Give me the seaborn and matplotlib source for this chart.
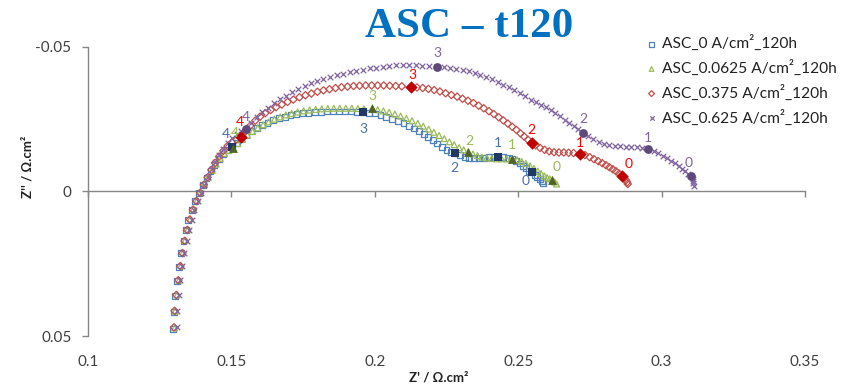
import matplotlib
matplotlib.use("Agg")
import matplotlib.pyplot as plt
import seaborn as sns

# ---------------- data ----------------
SERIES_NAMES = ["ASC_0 A/cm²_120h", "ASC_0.0625 A/cm²_120h",
                "ASC_0.375 A/cm²_120h", "ASC_0.625 A/cm²_120h"]
KEY_LABELS = ["4", "3", "2", "1", "0"]

S0_X = [0.1297, 0.1299, 0.1304, 0.1311, 0.1318, 0.1325, 0.1333, 0.1342, 0.1350, 0.1362,
        0.1374, 0.1387, 0.1400, 0.1413, 0.1427, 0.1441, 0.1456, 0.1471, 0.1486, 0.1502,
        0.1518, 0.1535, 0.1552, 0.1570, 0.1588, 0.1607, 0.1626, 0.1646, 0.1666, 0.1686,
        0.1706, 0.1727, 0.1748, 0.1769, 0.1790, 0.1811, 0.1832, 0.1853, 0.1874, 0.1895,
        0.1916, 0.1937, 0.1960, 0.1980, 0.2000, 0.2020, 0.2040, 0.2060, 0.2080, 0.2100,
        0.2118, 0.2136, 0.2153, 0.2170, 0.2186, 0.2202, 0.2218, 0.2234, 0.2250, 0.2266,
        0.2281, 0.2297, 0.2313, 0.2330, 0.2347, 0.2364, 0.2381, 0.2398, 0.2414, 0.2431,
        0.2447, 0.2463, 0.2478, 0.2492, 0.2505, 0.2517, 0.2528, 0.2539, 0.2549, 0.2558,
        0.2567, 0.2575, 0.2582, 0.2588]
S0_Y = [0.0476, 0.0418, 0.0362, 0.0311, 0.0260, 0.0214, 0.0172, 0.0134, 0.0098, 0.0064,
        0.0034, 0.0006, -0.0022, -0.0046, -0.0070, -0.0092, -0.0113, -0.0131, -0.0143, -0.0154,
        -0.0169, -0.0183, -0.0196, -0.0208, -0.0219, -0.0229, -0.0238, -0.0246, -0.0253, -0.0259,
        -0.0264, -0.0268, -0.0271, -0.0273, -0.0275, -0.0276, -0.0277, -0.0277, -0.0277, -0.0277,
        -0.0277, -0.0276, -0.0276, -0.0273, -0.0270, -0.0265, -0.0259, -0.0252, -0.0244, -0.0236,
        -0.0227, -0.0218, -0.0208, -0.0198, -0.0188, -0.0177, -0.0166, -0.0155, -0.0145, -0.0138,
        -0.0134, -0.0126, -0.0120, -0.0117, -0.0115, -0.0115, -0.0116, -0.0118, -0.0120, -0.0121,
        -0.0120, -0.0117, -0.0112, -0.0105, -0.0097, -0.0089, -0.0080, -0.0072, -0.0066, -0.0058,
        -0.0050, -0.0042, -0.0035, -0.0030]
S0_KEY_X = [0.1502, 0.1960, 0.2281, 0.2431, 0.2549]
S0_KEY_Y = [-0.0154, -0.0276, -0.0134, -0.0121, -0.0066]

S1_X = [0.1302, 0.1304, 0.1310, 0.1317, 0.1324, 0.1331, 0.1339, 0.1348, 0.1357, 0.1368,
        0.1380, 0.1393, 0.1406, 0.1419, 0.1433, 0.1447, 0.1461, 0.1476, 0.1491, 0.1506,
        0.1522, 0.1539, 0.1556, 0.1574, 0.1592, 0.1611, 0.1630, 0.1650, 0.1670, 0.1690,
        0.1710, 0.1731, 0.1752, 0.1773, 0.1794, 0.1815, 0.1836, 0.1857, 0.1878, 0.1899,
        0.1920, 0.1941, 0.1962, 0.1991, 0.2010, 0.2030, 0.2050, 0.2070, 0.2090, 0.2110,
        0.2130, 0.2150, 0.2169, 0.2188, 0.2206, 0.2224, 0.2242, 0.2260, 0.2277, 0.2294,
        0.2310, 0.2326, 0.2342, 0.2358, 0.2374, 0.2391, 0.2408, 0.2425, 0.2442, 0.2460,
        0.2479, 0.2496, 0.2512, 0.2527, 0.2541, 0.2555, 0.2568, 0.2580, 0.2591, 0.2601,
        0.2610, 0.2619, 0.2627, 0.2634]
S1_Y = [0.0472, 0.0414, 0.0358, 0.0307, 0.0257, 0.0211, 0.0169, 0.0131, 0.0095, 0.0061,
        0.0031, 0.0003, -0.0025, -0.0049, -0.0073, -0.0095, -0.0115, -0.0132, -0.0142, -0.0150,
        -0.0166, -0.0181, -0.0195, -0.0208, -0.0220, -0.0231, -0.0241, -0.0250, -0.0258, -0.0265,
        -0.0270, -0.0275, -0.0279, -0.0282, -0.0284, -0.0286, -0.0287, -0.0288, -0.0288, -0.0288,
        -0.0288, -0.0287, -0.0286, -0.0288, -0.0283, -0.0279, -0.0274, -0.0268, -0.0261, -0.0253,
        -0.0245, -0.0236, -0.0226, -0.0216, -0.0205, -0.0194, -0.0183, -0.0172, -0.0162, -0.0152,
        -0.0144, -0.0138, -0.0130, -0.0124, -0.0119, -0.0116, -0.0114, -0.0113, -0.0113, -0.0113,
        -0.0114, -0.0110, -0.0104, -0.0097, -0.0089, -0.0080, -0.0071, -0.0062, -0.0054, -0.0048,
        -0.0044, -0.0041, -0.0033, -0.0026]
S1_KEY_X = [0.1506, 0.1991, 0.2326, 0.2479, 0.2619]
S1_KEY_Y = [-0.0150, -0.0288, -0.0138, -0.0114, -0.0041]

S2_X = [0.1300, 0.1302, 0.1308, 0.1315, 0.1322, 0.1329, 0.1337, 0.1346, 0.1355, 0.1366,
        0.1378, 0.1391, 0.1404, 0.1417, 0.1430, 0.1443, 0.1457, 0.1472, 0.1487, 0.1502,
        0.1518, 0.1534, 0.1550, 0.1566, 0.1583, 0.1600, 0.1618, 0.1637, 0.1656, 0.1676,
        0.1696, 0.1716, 0.1737, 0.1758, 0.1779, 0.1800, 0.1821, 0.1842, 0.1863, 0.1884,
        0.1905, 0.1926, 0.1947, 0.1968, 0.1989, 0.2010, 0.2031, 0.2052, 0.2073, 0.2094,
        0.2127, 0.2147, 0.2167, 0.2187, 0.2207, 0.2227, 0.2247, 0.2267, 0.2287, 0.2306,
        0.2325, 0.2344, 0.2362, 0.2380, 0.2398, 0.2415, 0.2432, 0.2448, 0.2464, 0.2479,
        0.2494, 0.2508, 0.2521, 0.2534, 0.2547, 0.2561, 0.2576, 0.2592, 0.2608, 0.2625,
        0.2642, 0.2659, 0.2676, 0.2693, 0.2717, 0.2733, 0.2749, 0.2764, 0.2779, 0.2793,
        0.2806, 0.2818, 0.2830, 0.2841, 0.2852, 0.2863, 0.2870, 0.2876, 0.2880, 0.2882]
S2_Y = [0.0470, 0.0413, 0.0358, 0.0307, 0.0258, 0.0213, 0.0171, 0.0133, 0.0097, 0.0063,
        0.0033, 0.0005, -0.0023, -0.0049, -0.0075, -0.0099, -0.0121, -0.0141, -0.0158, -0.0170,
        -0.0180, -0.0190, -0.0210, -0.0228, -0.0245, -0.0259, -0.0271, -0.0282, -0.0292, -0.0301,
        -0.0310, -0.0318, -0.0326, -0.0333, -0.0339, -0.0345, -0.0350, -0.0354, -0.0358, -0.0361,
        -0.0363, -0.0365, -0.0366, -0.0367, -0.0367, -0.0367, -0.0367, -0.0366, -0.0365, -0.0364,
        -0.0362, -0.0360, -0.0358, -0.0355, -0.0351, -0.0346, -0.0340, -0.0334, -0.0328, -0.0321,
        -0.0314, -0.0306, -0.0297, -0.0288, -0.0278, -0.0268, -0.0257, -0.0246, -0.0235, -0.0224,
        -0.0213, -0.0201, -0.0190, -0.0179, -0.0169, -0.0160, -0.0151, -0.0144, -0.0139, -0.0136,
        -0.0135, -0.0135, -0.0134, -0.0133, -0.0131, -0.0126, -0.0119, -0.0112, -0.0105, -0.0098,
        -0.0091, -0.0084, -0.0077, -0.0070, -0.0062, -0.0055, -0.0047, -0.0039, -0.0032, -0.0026]
S2_KEY_X = [0.1534, 0.2127, 0.2547, 0.2717, 0.2863]
S2_KEY_Y = [-0.0190, -0.0362, -0.0169, -0.0131, -0.0055]

S3_X = [0.1310, 0.1311, 0.1316, 0.1322, 0.1329, 0.1336, 0.1344, 0.1352, 0.1361, 0.1371,
        0.1382, 0.1394, 0.1406, 0.1418, 0.1431, 0.1444, 0.1458, 0.1472, 0.1487, 0.1503,
        0.1519, 0.1535, 0.1551, 0.1570, 0.1589, 0.1608, 0.1628, 0.1648, 0.1669, 0.1690,
        0.1711, 0.1733, 0.1755, 0.1777, 0.1799, 0.1821, 0.1844, 0.1867, 0.1890, 0.1913,
        0.1936, 0.1959, 0.1982, 0.2005, 0.2028, 0.2051, 0.2074, 0.2097, 0.2120, 0.2143,
        0.2166, 0.2189, 0.2218, 0.2240, 0.2262, 0.2284, 0.2306, 0.2327, 0.2348, 0.2368,
        0.2388, 0.2408, 0.2428, 0.2448, 0.2467, 0.2486, 0.2505, 0.2524, 0.2543, 0.2561,
        0.2579, 0.2596, 0.2613, 0.2630, 0.2646, 0.2662, 0.2678, 0.2694, 0.2710, 0.2727,
        0.2744, 0.2762, 0.2780, 0.2799, 0.2818, 0.2837, 0.2856, 0.2875, 0.2894, 0.2913,
        0.2933, 0.2954, 0.2972, 0.2989, 0.3005, 0.3020, 0.3034, 0.3047, 0.3059, 0.3071,
        0.3082, 0.3093, 0.3104, 0.3108, 0.3110, 0.3111, 0.3112]
S3_Y = [0.0470, 0.0413, 0.0358, 0.0307, 0.0258, 0.0213, 0.0171, 0.0133, 0.0097, 0.0063,
        0.0033, 0.0005, -0.0023, -0.0050, -0.0077, -0.0102, -0.0126, -0.0148, -0.0168, -0.0186,
        -0.0200, -0.0210, -0.0217, -0.0238, -0.0257, -0.0274, -0.0290, -0.0305, -0.0319, -0.0332,
        -0.0344, -0.0355, -0.0365, -0.0374, -0.0382, -0.0389, -0.0396, -0.0402, -0.0408, -0.0413,
        -0.0418, -0.0422, -0.0426, -0.0429, -0.0432, -0.0434, -0.0436, -0.0437, -0.0437, -0.0436,
        -0.0435, -0.0433, -0.0431, -0.0430, -0.0428, -0.0425, -0.0421, -0.0416, -0.0410, -0.0403,
        -0.0396, -0.0388, -0.0379, -0.0370, -0.0361, -0.0351, -0.0341, -0.0329, -0.0318, -0.0309,
        -0.0300, -0.0291, -0.0281, -0.0271, -0.0260, -0.0249, -0.0238, -0.0227, -0.0215, -0.0203,
        -0.0191, -0.0180, -0.0171, -0.0165, -0.0160, -0.0157, -0.0156, -0.0155, -0.0154, -0.0153,
        -0.0151, -0.0148, -0.0141, -0.0133, -0.0124, -0.0115, -0.0106, -0.0097, -0.0088, -0.0079,
        -0.0071, -0.0062, -0.0052, -0.0044, -0.0036, -0.0028, -0.0020]
S3_KEY_X = [0.1551, 0.2218, 0.2727, 0.2954, 0.3104]
S3_KEY_Y = [-0.0217, -0.0431, -0.0203, -0.0148, -0.0052]

X_TICKS = [0.1, 0.15, 0.2, 0.25, 0.3, 0.35]
X_TICK_LABELS = ["0.1", "0.15", "0.2", "0.25", "0.3", "0.35"]
Y_TICKS = [-0.05, 0, 0.05]
Y_TICK_LABELS = ["-0.05", "0", "0.05"]

# ---------------- style ----------------
sns.set_theme(style="white")
plt.rcParams["font.family"] = ["Lato", "DejaVu Sans"]

W, H = 847, 392
fig = plt.figure(figsize=(W / 100, H / 100), dpi=100)
ax = fig.add_axes([88 / W, 1 - 336 / H, (805 - 88) / W, (336 - 47) / H])

styles = [
    dict(marker="s", edge="#4F81BD", key="#1F3864", keymarker="s", lab="#4A6FA5",
         offs=[(-4.5, 9.4), (0, -12.2), (-0.7, -10.8), (0, 10), (-5, -6.5)]),
    dict(marker="^", edge="#9BBB59", key="#4F6228", keymarker="^", lab="#9BBB59",
         offs=[(1.6, 10.8), (0, 8.6), (0.7, 8), (0, 10), (2.9, 9.4)]),
    dict(marker="D", edge="#C0504D", key="#C00000", keymarker="D", lab="#FF0000",
         offs=[(-0.7, 10.8), (0.7, 8.6), (0, 9.4), (-0.7, 8), (4.3, 8)]),
    dict(marker="x", edge="#8064A2", key="#5F497A", keymarker="o", lab="#8064A2",
         offs=[(0, 8.6), (0, 10), (0, 10), (0, 8), (-2.2, 10)]),
]
data = [(S0_X, S0_Y, S0_KEY_X, S0_KEY_Y), (S1_X, S1_Y, S1_KEY_X, S1_KEY_Y),
        (S2_X, S2_Y, S2_KEY_X, S2_KEY_Y), (S3_X, S3_Y, S3_KEY_X, S3_KEY_Y)]

for name, st, (xs, ys, kx, ky) in zip(SERIES_NAMES, styles, data):
    if st["marker"] == "x":
        sns.scatterplot(x=xs, y=ys, ax=ax, marker="x", color=st["edge"], s=16,
                        linewidth=0.9, label=name, zorder=3)
    else:
        ms = 14 if st["marker"] == "D" else 18
        sns.scatterplot(x=xs, y=ys, ax=ax, marker=st["marker"], facecolors="none",
                        edgecolors=st["edge"], s=ms, linewidth=0.9, label=name, zorder=3)
    sns.scatterplot(x=kx, y=ky, ax=ax, marker=st["keymarker"], color=st["key"],
                    s=40, linewidth=0, zorder=4, legend=False)
    for lab, x, y, off in zip(KEY_LABELS, kx, ky, st["offs"]):
        ax.annotate(lab, (x, y), xytext=off, textcoords="offset points",
                    ha="center", va="center", fontsize=10, color=st["lab"], zorder=5)

ax.set_xlim(0.1, 0.35)
ax.set_ylim(0.05, -0.05)
ax.set_facecolor("none")

axis_col = "#868686"
for side in ["top", "right"]:
    ax.spines[side].set_visible(False)
ax.spines["left"].set_color(axis_col)
ax.spines["bottom"].set_color(axis_col)
ax.spines["bottom"].set_position(("data", 0))
ax.spines["left"].set_linewidth(1.0)
ax.spines["bottom"].set_linewidth(1.0)

ax.set_xticks(X_TICKS)
ax.set_yticks(Y_TICKS)
ax.set_yticklabels(Y_TICK_LABELS)
ax.tick_params(axis="x", direction="out", length=4, width=1, color=axis_col,
               bottom=True, labelbottom=False)
ax.tick_params(axis="y", direction="out", length=4, width=1, color=axis_col,
               left=True, labelsize=11, labelcolor="#404040", pad=8)

sec = ax.secondary_xaxis(0.0)
sec.set_xticks(X_TICKS)
sec.set_xticklabels(X_TICK_LABELS)
sec.spines["bottom"].set_visible(False)
sec.tick_params(axis="x", length=0, labelsize=11, labelcolor="#404040", pad=14)

ax.set_xlabel("")
ax.set_ylabel("")
ax.grid(False)

fig.text(439 / W, 1 - 378 / H, "Z' / Ω.cm²", ha="center", va="center",
         fontsize=9.5, fontweight="bold", color="#222222")
fig.text(28 / W, 1 - 167 / H, "Z'' / Ω.cm²", ha="center", va="center",
         rotation=90, fontsize=9.5, fontweight="bold", color="#222222")

fig.text(469 / W, 1 - 27 / H, "ASC – t120", ha="center", va="center",
         fontsize=31, fontweight="bold", color="#0070C0",
         family=["Liberation Serif", "DejaVu Serif"])

leg = ax.legend(loc="upper left", bbox_to_anchor=(636 / W, 1 - 29 / H),
                bbox_transform=fig.transFigure, frameon=False, fontsize=11.2,
                handletextpad=0.1, labelspacing=0.55, borderaxespad=0,
                handlelength=1.2, markerscale=0.8)
for t in leg.get_texts():
    t.set_color("#222222")

fig.savefig("out.png", dpi=100)
